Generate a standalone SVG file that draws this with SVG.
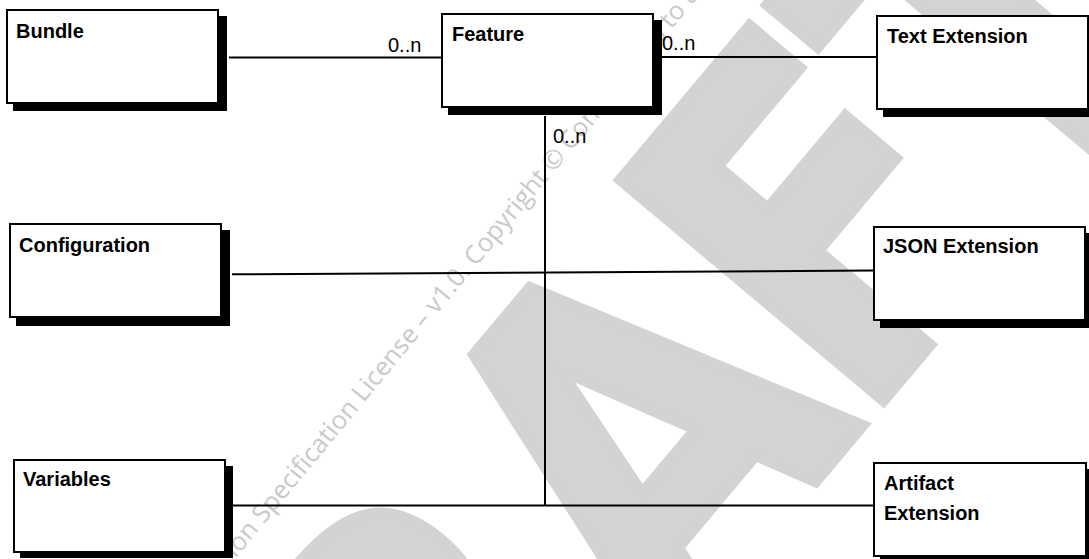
<svg xmlns="http://www.w3.org/2000/svg" width="1089" height="559" viewBox="0 0 1089 559">
<style>
.wm-big{font-family:"DejaVu Sans",sans-serif;font-weight:bold;font-size:473px;fill:#d1d3d4;stroke:#d1d3d4;stroke-width:10;stroke-linejoin:miter}
.wm-small{font-family:"Open Sans",sans-serif;font-size:25.5px;fill:#c8c9cb}
.box{fill:#fff;stroke:#000;stroke-width:2}
.shadow{fill:#000}
.label{font-family:"Liberation Sans",Arial,sans-serif;font-weight:bold;font-size:20px;fill:#000}
.mult{font-family:"Liberation Sans",Arial,sans-serif;font-size:20px;fill:#000}
.conn{stroke:#000;stroke-width:2;fill:none}
</style>
<rect width="1089" height="559" fill="#fff"/>
<g id="watermark">
<text class="wm-big" transform="rotate(-50) scale(0.85,1)" x="-853 -462 -93 262 572" y="935">DRAFT</text>
<text class="wm-small" transform="rotate(-50.5)" x="-281" y="537">ion Specification License – v1.0. Copyright © Contributors to th</text>
</g>
<g id="connectors">
<path class="conn" d="M229 57.5H441"/>
<path class="conn" d="M662 57H877"/>
<path class="conn" d="M545 116V506"/>
<path class="conn" d="M232 274.3L874 270.5"/>
<path class="conn" d="M232 505.5H874"/>
<text class="mult" x="388" y="51.7">0..n</text>
<text class="mult" x="662" y="50">0..n</text>
<text class="mult" x="553" y="143.3">0..n</text>
</g>
<g id="bundle">
<rect class="shadow" x="13" y="16" width="214" height="95"/>
<rect class="box" x="7" y="10" width="211" height="93"/>
<text class="label" x="16" y="37.7">Bundle</text>
</g>
<g id="feature">
<rect class="shadow" x="448" y="20" width="214" height="95"/>
<rect class="box" x="442" y="14" width="211" height="93"/>
<text class="label" x="452" y="40.7">Feature</text>
</g>
<g id="text-extension">
<rect class="shadow" x="883" y="22" width="214" height="95"/>
<rect class="box" x="877" y="16" width="211" height="93"/>
<text class="label" x="887" y="43.3">Text Extension</text>
</g>
<g id="configuration">
<rect class="shadow" x="16" y="230" width="214" height="96"/>
<rect class="box" x="10" y="224" width="211" height="93"/>
<text class="label" x="19" y="251.7">Configuration</text>
</g>
<g id="json-extension">
<rect class="shadow" x="880" y="233" width="214" height="95"/>
<rect class="box" x="874" y="227" width="211" height="93"/>
<text class="label" x="883" y="253">JSON Extension</text>
</g>
<g id="variables">
<rect class="shadow" x="20" y="466" width="213" height="92"/>
<rect class="box" x="14" y="460" width="211" height="92"/>
<text class="label" x="23" y="486">Variables</text>
</g>
<g id="artifact-extension">
<rect class="shadow" x="880" y="469" width="214" height="95"/>
<rect class="box" x="874" y="463" width="212" height="93"/>
<text class="label" x="884" y="490">Artifact</text>
<text class="label" x="884" y="520">Extension</text>
</g>
</svg>
